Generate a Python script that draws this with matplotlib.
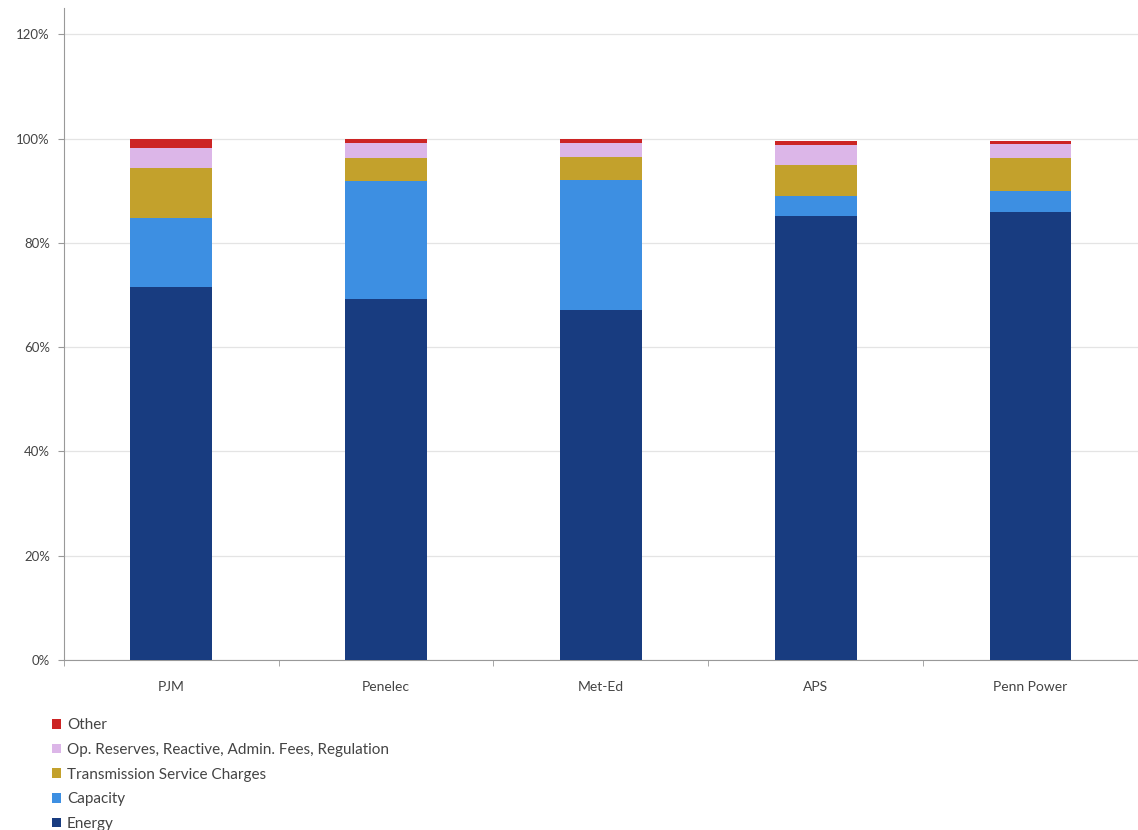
import numpy as np
import matplotlib.pyplot as plt
from matplotlib.ticker import PercentFormatter

plt.rcParams['font.family'] = ['Lato', 'DejaVu Sans']

zones = ["PJM", "Penelec", "Met-Ed", "APS", "Penn Power"]

energy = [71.5, 69.3, 67.1, 85.1, 85.9]
capacity = [13.3, 22.5, 25.0, 3.8, 4.0]
transmission = [9.6, 4.5, 4.3, 6.1, 6.3]
op_reserves = [3.8, 2.8, 2.8, 3.8, 2.7]
other = [1.8, 0.9, 0.8, 0.8, 0.6]

series = [
    ("Energy", energy, "#183c80"),
    ("Capacity", capacity, "#3d8fe2"),
    ("Transmission Service Charges", transmission, "#c3a12c"),
    ("Op. Reserves, Reactive, Admin. Fees, Regulation", op_reserves, "#dcb6e8"),
    ("Other", other, "#cc2424"),
]

fig = plt.figure(figsize=(11.38, 8.30), dpi=100)
ax = fig.add_axes([0.056, 0.205, 0.944, 0.785])

x = np.arange(len(zones))
bottom = np.zeros(len(zones))
handles = []
for name, vals, col in series:
    b = ax.bar(x, np.array(vals) / 100, width=0.38, bottom=bottom / 100,
               color=col, label=name, zorder=3)
    bottom += np.array(vals)
    handles.append(b)

ax.set_xlim(-0.5, len(zones) - 0.5)
ax.set_ylim(0, 1.25)
ax.set_yticks(np.arange(0, 1.21, 0.2))
ax.yaxis.set_major_formatter(PercentFormatter(1.0, decimals=0))
ax.grid(axis="y", color="#e4e4e4", linewidth=0.9, zorder=0)

ax.set_xticks(x)
ax.set_xticklabels(zones)
ax.set_xticks(np.arange(-0.5, len(zones) - 0.4, 1.0), minor=True)
ax.tick_params(axis="x", which="major", length=0, pad=15, labelsize=10, labelcolor="#444444")
ax.tick_params(axis="x", which="minor", length=4, color="#999999", direction="out")
ax.tick_params(axis="y", length=4, color="#999999", labelsize=9.5, labelcolor="#444444", pad=6)

for s in ["top", "right"]:
    ax.spines[s].set_visible(False)
ax.spines["left"].set_color("#999999")
ax.spines["bottom"].set_color("#999999")

leg = fig.legend(handles[::-1], [s[0] for s in series][::-1],
                 loc="upper left", bbox_to_anchor=(0.040, 0.142),
                 frameon=False, fontsize=11, handlelength=0.6, handleheight=0.6,
                 handletextpad=0.4, labelspacing=0.7, borderaxespad=0)
for t in leg.get_texts():
    t.set_color("#444444")

fig.savefig("out.png", dpi=100)
